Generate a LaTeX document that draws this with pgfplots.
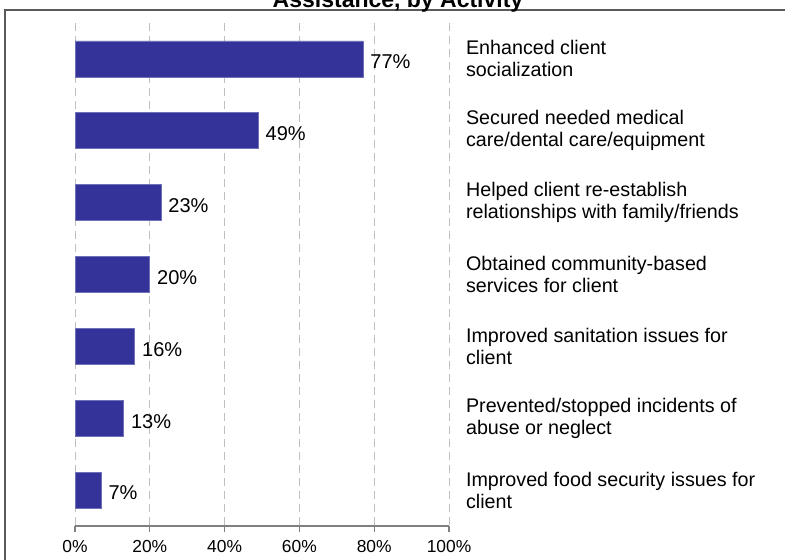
\documentclass[border=0pt]{standalone}
\usepackage{fontspec}
\setmainfont{Liberation Sans}
\usepackage{pgfplots}
\pgfplotsset{compat=1.18}
\definecolor{barblue}{HTML}{333399}
\begin{document}
\begin{tikzpicture}
\useasboundingbox (0,0) rectangle (392.5pt,-279.5pt);
\clip (0,0) rectangle (392.5pt,-279.5pt);
\draw[line width=1pt, black!65] (2.5pt,-5pt) rectangle (420pt,-300pt);
\node[font=\bfseries\fontsize{11.5}{12}\selectfont, anchor=base] at (199pt,-3.5pt) {Assistance, by Activity};
\begin{axis}[
  at={(37.5pt,-263pt)}, anchor=south west,
  scale only axis, width=187pt, height=251.5pt,
  xbar, bar width=18pt,
  xmin=0, xmax=100, ymin=-0.5, ymax=6.5, y dir=reverse,
  axis line style={draw=none},
  xtick={0,20,40,60,80,100},
  xticklabel={\pgfmathprintnumber{\tick}\%},
  /pgf/number format/assume math mode=true,
  tick pos=lower, tick align=outside,
  major tick length=3pt,
  x tick style={gray, line width=0.6pt},
  xmajorgrids, grid style={gray!50, dash pattern=on 4pt off 2.5pt, line width=0.5pt},
  xticklabel style={font=\fontsize{8.7}{10}\selectfont, yshift=-0.5pt},
  ytick={0,...,6},
  y tick style={draw=none},
  yticklabel pos=right,
  yticklabel style={font=\fontsize{9.85}{11}\selectfont, anchor=west, align=left, xshift=2pt},
  yticklabels={{Enhanced client\\socialization},
               {Secured needed medical\\care/dental care/equipment},
               {Helped client re-establish\\relationships with family/friends},
               {Obtained community-based\\services for client},
               {Improved sanitation issues for\\client},
               {Prevented/stopped incidents of\\abuse or neglect},
               {Improved food security issues for\\client}},
  nodes near coords={\pgfmathprintnumber{\pgfplotspointmeta}\%},
  nodes near coords align=horizontal,
  every node near coord/.append style={font=\fontsize{10}{11}\selectfont, black, inner sep=3.5pt, yshift=-1.5pt, /pgf/number format/assume math mode=true},
  clip=false,
]
\addplot[fill=barblue, draw=barblue!70!white, line width=0.4pt] coordinates {
(77,0) (49,1) (23,2) (20,3) (16,4) (13,5) (7,6)};
\draw[gray, line width=0.8pt] (axis cs:0,6.5) -- (axis cs:100,6.5);
\end{axis}
\end{tikzpicture}
\end{document}
